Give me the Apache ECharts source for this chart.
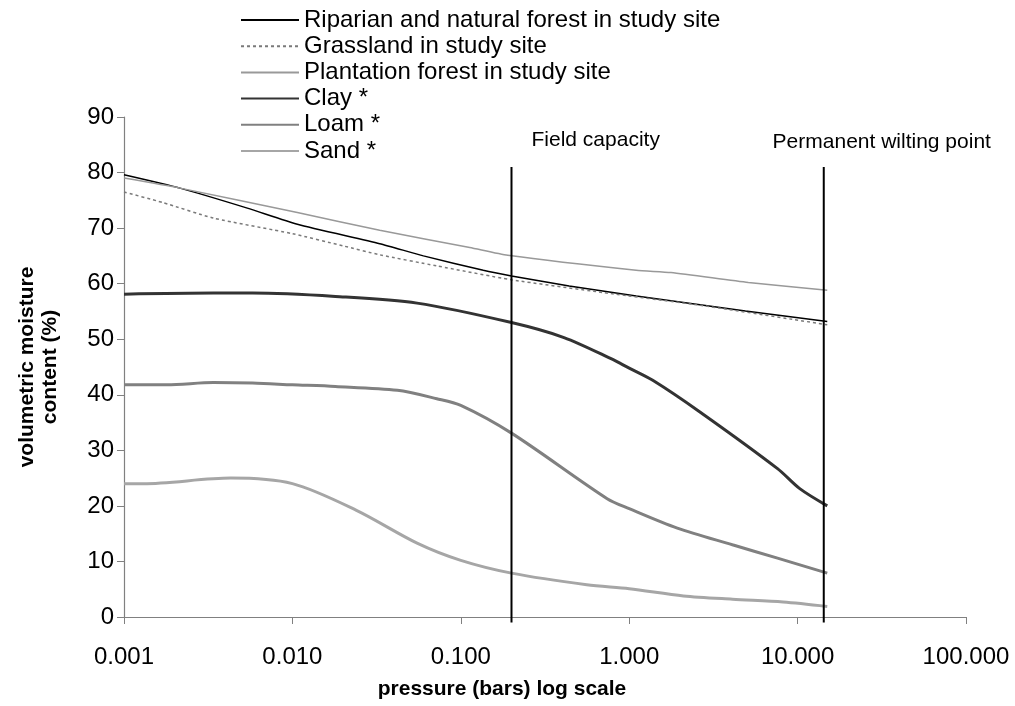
<!DOCTYPE html>
<html>
<head>
<meta charset="utf-8">
<script src="https://cdn.jsdelivr.net/npm/echarts@6/dist/echarts.min.js"></script>
<style>
html,body{margin:0;padding:0;background:#fff;}
#main{width:1015px;height:706px;}
</style>
</head>
<body>
<div id="main"></div>
<script>
// ---- data (pressure in bars, volumetric moisture %) ----
const seriesNames = ['Riparian and natural forest in study site','Grassland in study site','Plantation forest in study site','Clay *','Loam *','Sand *'];
const riparian = [[0.001,79.6],[0.00215,77.2],[0.0054,73.6],[0.0107,70.7],[0.033,67.2],[0.06,65.0],[0.136,62.4],[0.2,61.4],[0.44,59.6],[1.1,57.8],[4.9,55.1],[15,53.2]];
const grassland = [[0.001,76.5],[0.0017,74.6],[0.0034,71.8],[0.01,69.0],[0.02,66.8],[0.033,65.2],[0.072,63.2],[0.2,60.7],[0.7,58.4],[2.8,56.0],[15,52.6]];
const plantation = [[0.001,79.0],[0.00215,77.2],[0.0107,72.8],[0.033,69.6],[0.113,66.5],[0.19,65.1],[1.1,62.4],[1.77,62.0],[5.1,60.2],[15,58.8]];
const clay = [[0.001,58.1],[0.0034,58.3],[0.0058,58.3],[0.018,57.7],[0.055,56.5],[0.2,53.0],[0.41,50.3],[0.78,46.5],[1.0,44.8],[1.38,42.6],[2.63,36.9],[7.6,26.7],[10.3,23.1],[15,20.0]];
const loam = [[0.001,41.8],[0.0018,41.8],[0.0034,42.2],[0.0058,42.1],[0.01,41.8],[0.018,41.5],[0.042,40.8],[0.072,39.3],[0.1,38.1],[0.2,33.1],[0.74,21.3],[1.0,19.5],[1.93,16.0],[4.1,13.0],[7.6,10.6],[15,7.9]];
const sand = [[0.001,24.0],[0.0013,24.0],[0.0043,25.0],[0.01,24.0],[0.024,19.2],[0.055,13.3],[0.1,10.2],[0.2,7.9],[0.56,5.8],[1.0,5.1],[2.1,3.8],[4.1,3.2],[8.2,2.7],[15,1.9]];
const fieldCapacity = [[0.2,-1],[0.2,81]];
const wiltingPoint = [[14.3,-1],[14.3,81]];
const refLabels = ['Field capacity','Permanent wilting point'];
const xTitle = 'pressure (bars) log scale';
const yTitle = 'volumetric moisture\ncontent (%)';

const FONT = "'Liberation Sans', Arial, sans-serif";
const chart = echarts.init(document.getElementById('main'), null, {renderer:'canvas'});

function lineSeries(name, data, color, width, type, smooth){
  return {name, type:'line', data, symbol:'circle', showSymbol:false, smooth, z:3,
    lineStyle:{color, width, type}, itemStyle:{color}, emphasis:{disabled:true}};
}
function refLine(data){
  return {type:'line', data, symbol:'none', clip:false, silent:true, z:4,
    lineStyle:{color:'#000', width:2}, itemStyle:{color:'#000'}, emphasis:{disabled:true}};
}
function refLabel(point, text, position, offset){
  return {type:'scatter', data:[point], symbolSize:0, silent:true, z:5,
    itemStyle:{color:'#000', opacity:1}, emphasis:{disabled:true},
    label:{show:true, formatter:text, position, distance:0, offset,
      fontFamily:FONT, fontSize:21, color:'#000', opacity:1}};
}

const option = {
  animation:false,
  backgroundColor:'#fff',
  textStyle:{fontFamily:FONT},
  grid:{left:124, right:49, top:117, bottom:89, containLabel:false},
  legend:{
    data:seriesNames, orient:'vertical', left:240, top:8, padding:0,
    itemWidth:58, itemHeight:14, itemGap:2.2,
    itemStyle:{opacity:0},
    textStyle:{fontFamily:FONT, fontSize:24, lineHeight:24, color:'#000'},
    selectedMode:false
  },
  xAxis:{
    type:'log', logBase:10, min:0.001, max:100,
    name:xTitle, nameLocation:'middle', nameGap:62,
    nameTextStyle:{fontFamily:FONT, fontSize:21, fontWeight:'bold', color:'#000', padding:[0,86,0,0]},
    axisLine:{lineStyle:{color:'#808080', width:1.2}},
    axisTick:{show:true, inside:false, length:7, lineStyle:{color:'#808080'}},
    minorTick:{show:false}, splitLine:{show:false},
    axisLabel:{fontFamily:FONT, fontSize:24, color:'#000', margin:28, formatter:v=>Number(v).toFixed(3)}
  },
  yAxis:{
    type:'value', min:0, max:90, interval:10,
    name:yTitle, nameLocation:'middle', nameRotate:90, nameGap:62,
    nameTextStyle:{fontFamily:FONT, fontSize:21, fontWeight:'bold', color:'#000', lineHeight:23},
    axisLine:{show:true, lineStyle:{color:'#808080', width:1.2}},
    axisTick:{show:true, inside:false, length:7, lineStyle:{color:'#808080'}},
    splitLine:{show:false},
    axisLabel:{fontFamily:FONT, fontSize:24, color:'#000', margin:10}
  },
  series:[
    lineSeries(seriesNames[0], riparian, '#000000', 1.5, 'solid', 0.2),
    lineSeries(seriesNames[1], grassland, '#7a7a7a', 1.5, [3,3], 0.2),
    lineSeries(seriesNames[2], plantation, '#999999', 1.5, 'solid', 0.2),
    lineSeries(seriesNames[3], clay, '#333333', 3, 'solid', 0.3),
    lineSeries(seriesNames[4], loam, '#808080', 3, 'solid', 0.3),
    lineSeries(seriesNames[5], sand, '#a6a6a6', 3, 'solid', 0.3),
    refLine(fieldCapacity),
    refLine(wiltingPoint),
    refLabel(fieldCapacity[1], refLabels[0], 'right', [20,-27]),
    refLabel(wiltingPoint[1], refLabels[1], 'top', [58,-14])
  ]
};
chart.setOption(option);
</script>
</body>
</html>
